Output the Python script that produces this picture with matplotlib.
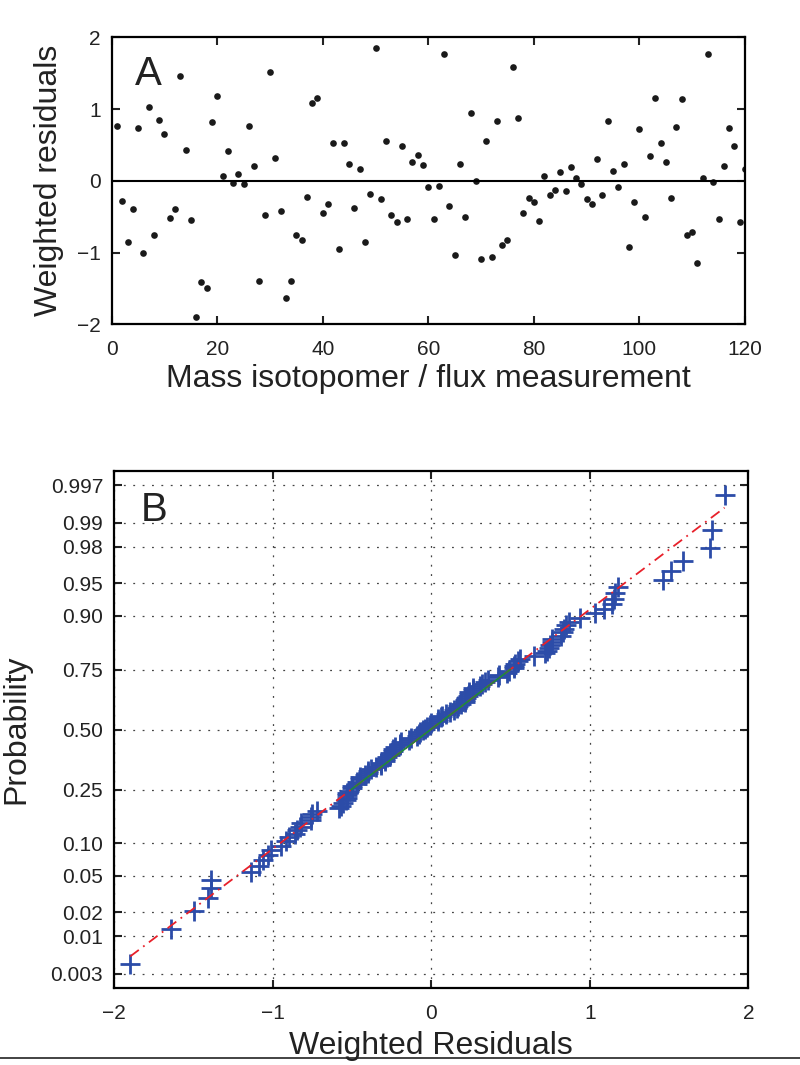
import numpy as np
import matplotlib.pyplot as plt
from matplotlib.lines import Line2D
from statistics import NormalDist

plt.rcParams['font.family'] = ['Liberation Sans', 'DejaVu Sans']
plt.rcParams['text.color'] = '#222222'
plt.rcParams['axes.labelcolor'] = '#222222'
plt.rcParams['xtick.color'] = '#222222'
plt.rcParams['ytick.color'] = '#222222'

# panel A: weighted residual per measurement
measurement = np.arange(1, 121)
residuals = [0.76, -0.28, -0.85, -0.40, 0.73, -1.01, 1.03, -0.76, 0.85, 0.65,
             -0.52, -0.40, 1.46, 0.43, -0.54, -1.90, -1.41, -1.50, 0.82, 1.18,
             0.06, 0.42, -0.03, 0.09, -0.05, 0.76, 0.21, -1.39, -0.47, 1.51,
             0.32, -0.42, -1.64, -1.39, -0.76, -0.82, -0.23, 1.09, 1.16, -0.45,
             -0.32, 0.53, -0.95, 0.52, 0.24, -0.38, 0.17, -0.86, -0.19, 1.85,
             -0.26, 0.56, -0.47, -0.58, 0.49, -0.53, 0.26, 0.36, 0.22, -0.09,
             -0.53, -0.07, 1.76, -0.35, -1.03, 0.23, -0.50, 0.94, 0.00, -1.09,
             0.55, -1.06, 0.84, -0.90, -0.83, 1.59, 0.87, -0.45, -0.24, -0.29,
             -0.56, 0.07, -0.20, -0.13, 0.12, -0.14, 0.19, 0.04, -0.04, -0.26,
             -0.32, 0.31, -0.20, 0.83, 0.14, -0.08, 0.24, -0.92, -0.29, 0.72,
             -0.50, 0.34, 1.15, 0.52, 0.26, -0.24, 0.75, 1.14, -0.75, -0.72,
             -1.14, 0.04, 1.77, -0.01, -0.53, 0.21, 0.74, 0.48, -0.57, 0.16]

# panel B: normal probability axis
prob_ticks = [0.003, 0.01, 0.02, 0.05, 0.10, 0.25, 0.50, 0.75, 0.90, 0.95, 0.98, 0.99, 0.997]
prob_labels = ['0.003', '0.01', '0.02', '0.05', '0.10', '0.25', '0.50',
               '0.75', '0.90', '0.95', '0.98', '0.99', '0.997']

nd = NormalDist()

fig = plt.figure(figsize=(8, 10.65), dpi=100)

# ---- A ----
ax1 = fig.add_axes([0.1396, 0.6955, 0.7916, 0.2695])
ax1.plot(measurement, residuals, 'o', color='#1a1a1a', ms=4.8, mew=0)
ax1.axhline(0, color='black', lw=1.5)
ax1.set_xlim(0, 120)
ax1.set_ylim(-2, 2)
ax1.set_xticks(range(0, 121, 20))
ax1.set_yticks([-2, -1, 0, 1, 2])
ax1.tick_params(direction='in', top=True, right=True, length=6, width=1.5,
                labelsize=15, pad=8)
ax1.tick_params(axis='x', pad=11)
for s in ax1.spines.values():
    s.set_linewidth(1.6)
ax1.set_xlabel('Mass isotopomer / flux measurement', fontsize=23, labelpad=4)
ax1.set_ylabel('Weighted residuals', fontsize=23, labelpad=9)
ax1.text(0.037, 0.834, 'A', transform=ax1.transAxes, fontsize=29)

# ---- B ----
ax2 = fig.add_axes([0.1429, 0.072, 0.7925, 0.486])
res_sorted = np.sort(residuals)
n = len(res_sorted)
p = (np.arange(1, n + 1) - 0.5) / n
z = np.array([nd.inv_cdf(v) for v in p])

# reference line through the quartiles, extended over the data range
q1, q3 = np.percentile(residuals, [25, 75])
z1, z3 = nd.inv_cdf(0.25), nd.inv_cdf(0.75)
slope = (z3 - z1) / (q3 - q1)
xl = np.array([res_sorted[0], res_sorted[-1]])
yl = z1 + slope * (xl - q1)

ax2.plot(res_sorted, z, '+', color='#2c4ca8', ms=14, mew=2.0, zorder=3)
ax2.plot(xl, yl, color='#e8202a', ls=(0, (6, 3, 1, 3)), lw=1.3, zorder=4)
ax2.plot([q1, q3], [z1, z3], color='#1f8a3a', lw=1.2, zorder=4)

ax2.set_xlim(-2, 2)
ax2.set_ylim(-2.91, 2.91)
ax2.set_xticks([-2, -1, 0, 1, 2])
ax2.set_yticks([nd.inv_cdf(v) for v in prob_ticks])
ax2.set_yticklabels(prob_labels)
ax2.grid(True, color='#444444', lw=0.9, linestyle=(0, (1.5, 6)))
ax2.tick_params(direction='in', top=True, right=True, length=6, width=1.5,
                labelsize=15, pad=8)
ax2.tick_params(axis='x', pad=11)
for s in ax2.spines.values():
    s.set_linewidth(1.6)
ax2.set_xlabel('Weighted Residuals', fontsize=23, labelpad=6)
ax2.set_ylabel('Probability', fontsize=23, labelpad=14)
ax2.text(0.041, 0.903, 'B', transform=ax2.transAxes, fontsize=29)

fig.add_artist(Line2D([0, 1], [0.0063, 0.0063], color='#222222', lw=1.2))

fig.savefig('out.png', dpi=100)
